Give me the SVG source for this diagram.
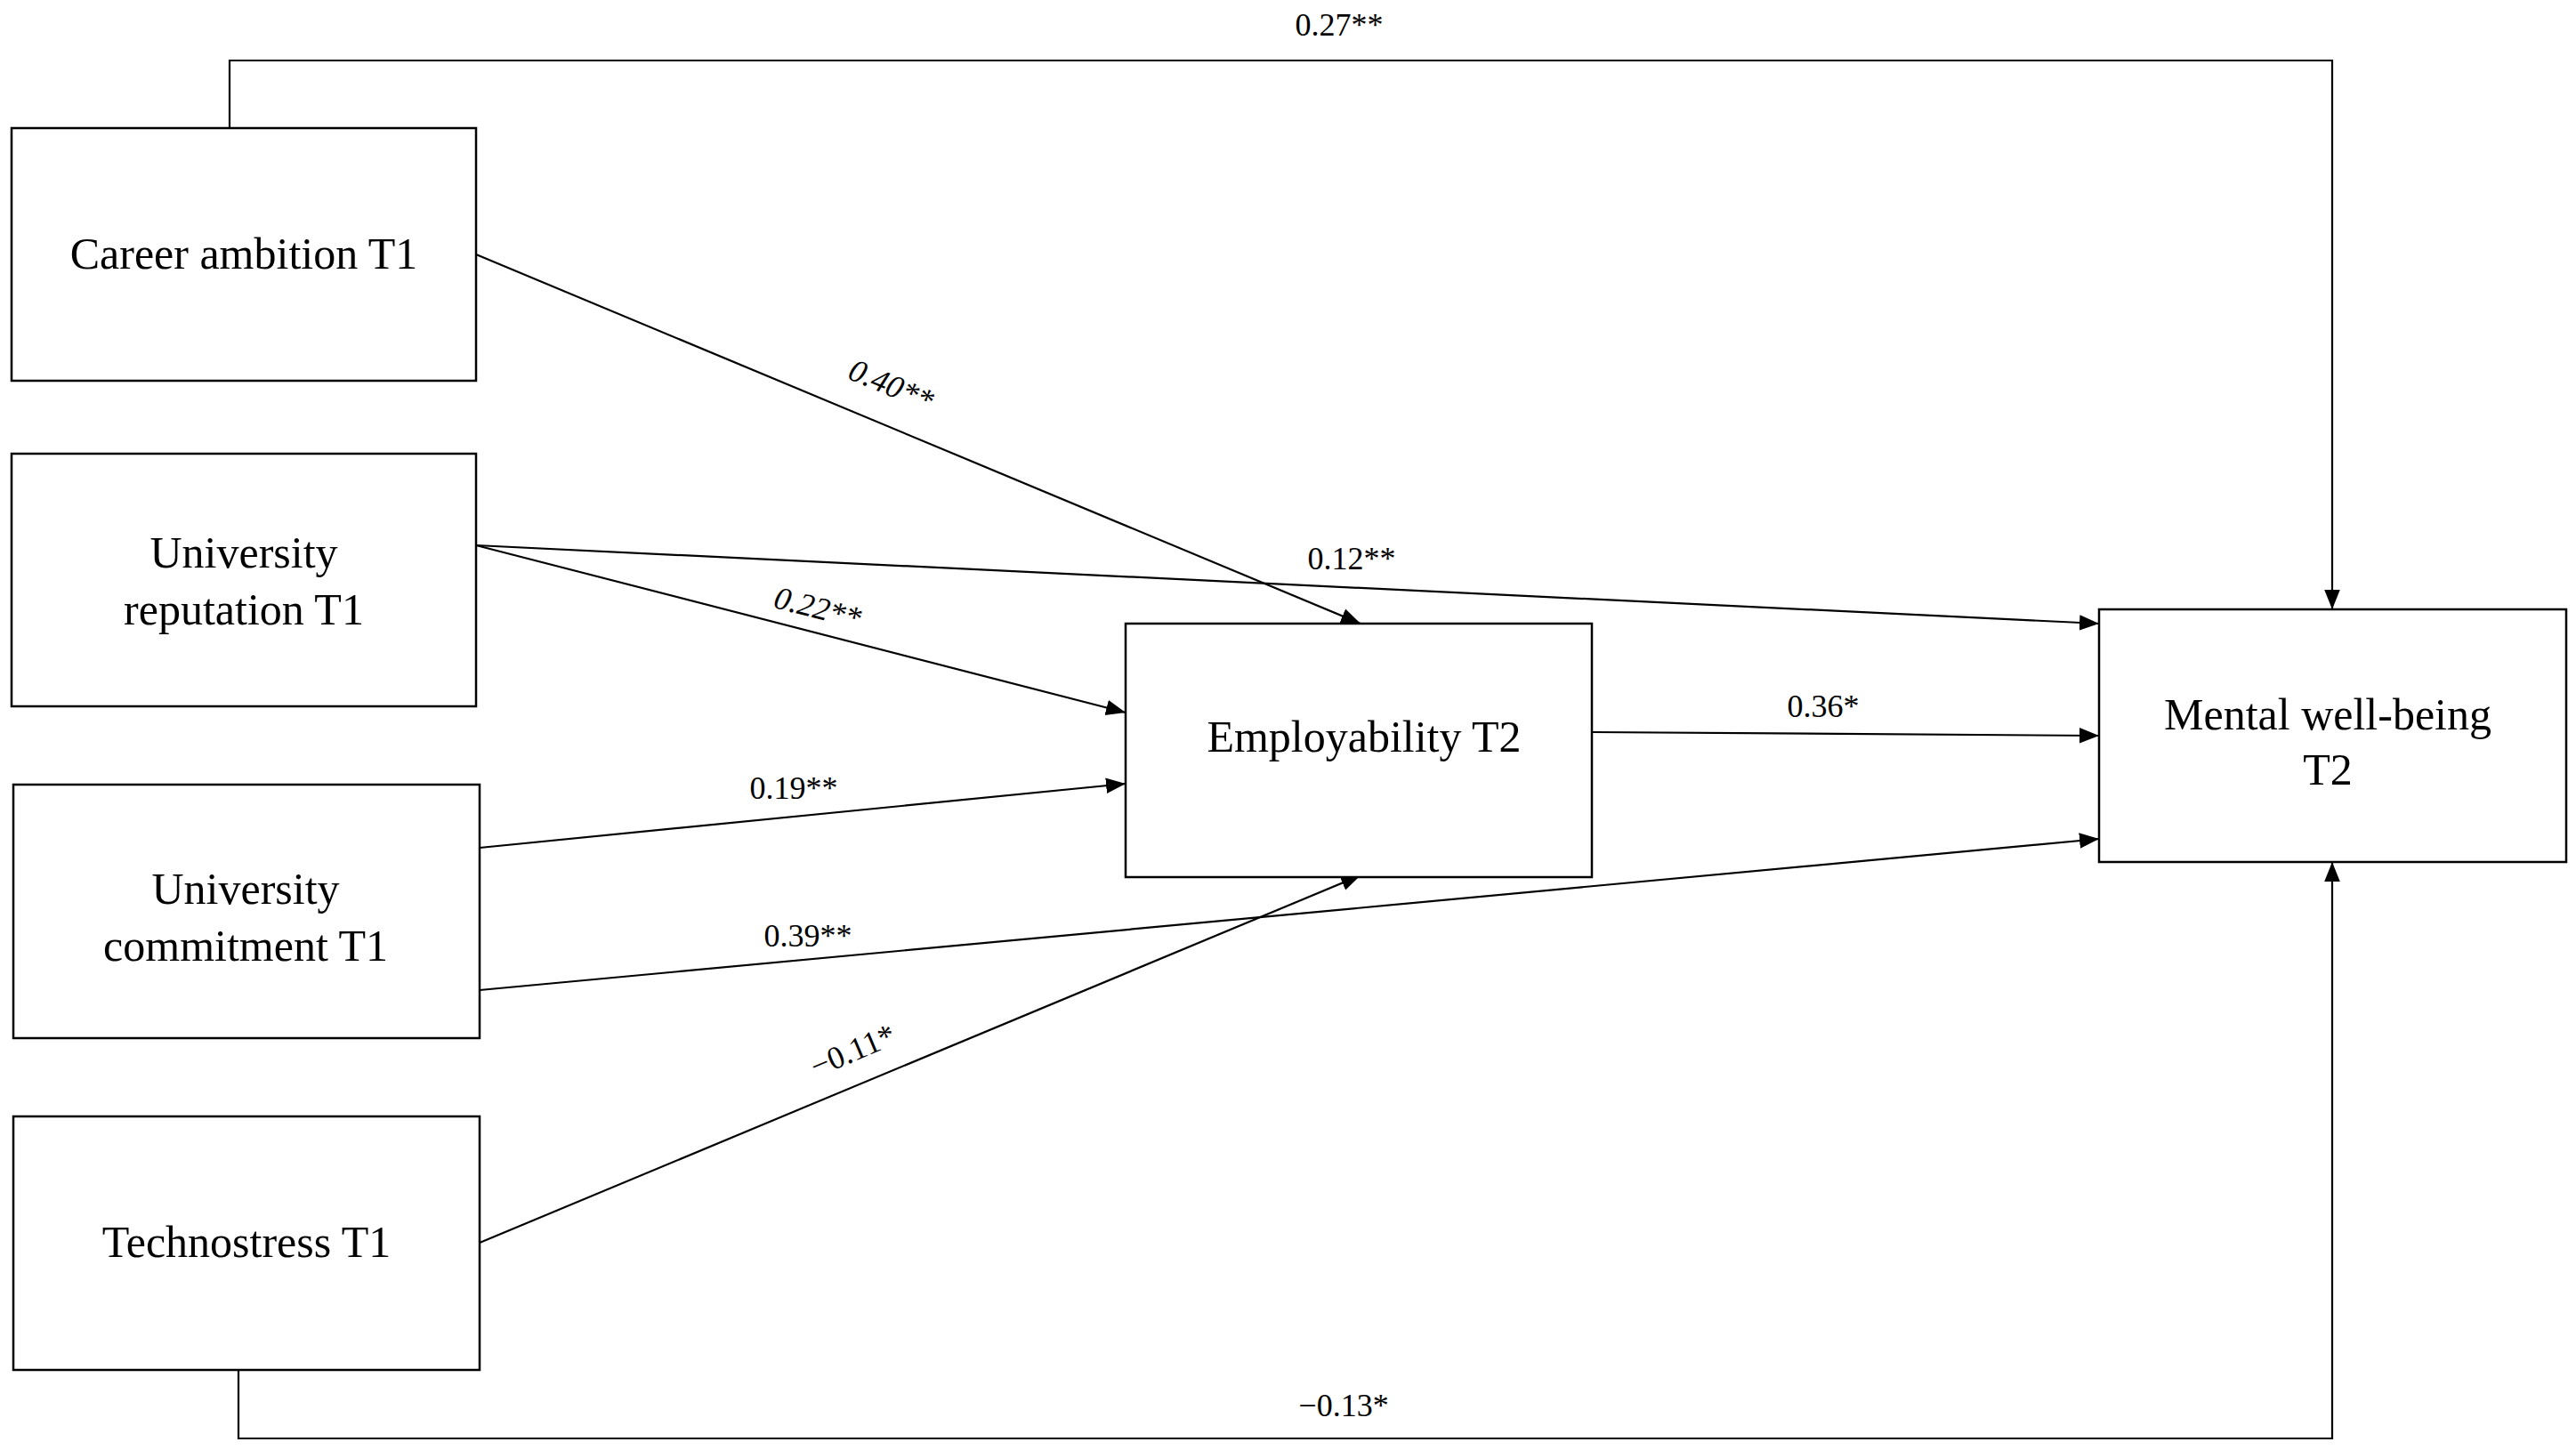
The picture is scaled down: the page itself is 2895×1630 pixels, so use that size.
<svg xmlns="http://www.w3.org/2000/svg" width="2895" height="1630" viewBox="0 0 2895 1630">
<style>
.box{fill:#fff;stroke:#000;stroke-width:2.5}
.t{font-family:"Liberation Serif",serif;font-size:50px;text-anchor:middle;fill:#000}
.l{font-family:"Liberation Serif",serif;font-size:36px;text-anchor:middle;fill:#000}
.c{fill:none;stroke:#000;stroke-width:2.2;marker-end:url(#a)}
</style>
<defs><marker id="a" viewBox="0 0 10 10" refX="10" refY="5" markerWidth="10" markerHeight="10" markerUnits="userSpaceOnUse" orient="auto"><path d="M0,0L10,5L0,10z" fill="#000"/></marker>
<marker id="a2" viewBox="0 0 10 10" refX="10" refY="5" markerWidth="22" markerHeight="22" markerUnits="userSpaceOnUse" orient="auto"><path d="M0,1L10,5L0,9z" fill="#000"/></marker></defs>
<rect width="2895" height="1630" fill="#fff"/>
<g id="connectors" style="--m:url(#a2)">
<path class="c" style="marker-end:url(#a2)" d="M258,144V68H2621V685"/>
<path class="c" style="marker-end:url(#a2)" d="M535,286L1529,701"/>
<path class="c" style="marker-end:url(#a2)" d="M535,613L2359,701"/>
<path class="c" style="marker-end:url(#a2)" d="M535,613L1265,801"/>
<path class="c" style="marker-end:url(#a2)" d="M539,953L1265,881"/>
<path class="c" style="marker-end:url(#a2)" d="M539,1113L2359,943"/>
<path class="c" style="marker-end:url(#a2)" d="M539,1397L1529,984"/>
<path class="c" style="marker-end:url(#a2)" d="M1789,823L2359,827"/>
<path class="c" style="marker-end:url(#a2)" d="M268,1540V1617H2621V969"/>
<text class="l" x="1505" y="40">0.27**</text>
<text class="l" font-style="italic" transform="translate(997,444) rotate(22.7)">0.40**</text>
<text class="l" x="1519" y="640">0.12**</text>
<text class="l" font-style="italic" transform="translate(916,695) rotate(14.5)">0.22**</text>
<text class="l" x="892" y="898">0.19**</text>
<text class="l" x="908" y="1064">0.39**</text>
<text class="l" transform="translate(963,1192) rotate(-23)">−0.11*</text>
<text class="l" x="2049" y="806">0.36*</text>
<text class="l" x="1510" y="1592">−0.13*</text>
</g>
<g id="career"><rect class="box" x="13" y="144" width="522" height="284"/><text class="t" x="274" y="302">Career ambition T1</text></g>
<g id="reputation"><rect class="box" x="13" y="510" width="522" height="284"/><text class="t" x="274" y="638">University</text><text class="t" x="274" y="702">reputation T1</text></g>
<g id="commitment"><rect class="box" x="15" y="882" width="524" height="285"/><text class="t" x="276" y="1016">University</text><text class="t" x="276" y="1080">commitment T1</text></g>
<g id="technostress"><rect class="box" x="15" y="1255" width="524" height="285"/><text class="t" x="277" y="1413">Technostress T1</text></g>
<g id="employability"><rect class="box" x="1265" y="701" width="524" height="285"/><text class="t" x="1533" y="845">Employability T2</text></g>
<g id="wellbeing"><rect class="box" x="2359" y="685" width="525" height="284"/><text class="t" x="2616" y="820">Mental well-being</text><text class="t" x="2616" y="882">T2</text></g>
</svg>
